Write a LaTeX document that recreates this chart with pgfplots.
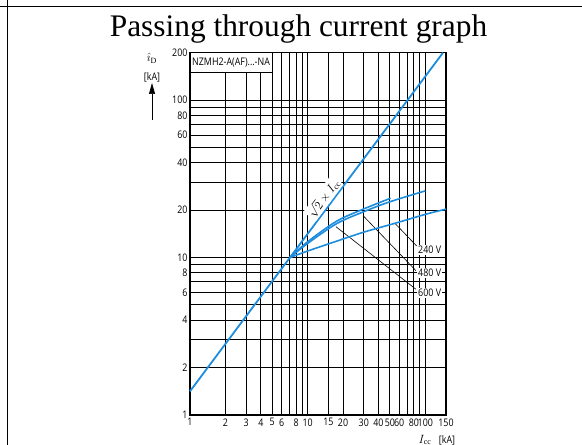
\documentclass[border=0pt]{standalone}
\usepackage{pgfplots}
\pgfplotsset{compat=1.18}
\usetikzlibrary{arrows.meta}
\usepackage{fontspec}
\setmainfont{Liberation Serif}
\newfontfamily\tickfont[FakeStretch=0.85]{Open Sans}
\definecolor{curveblue}{RGB}{28,140,222}
\newcommand{\lblfont}{\tickfont\fontsize{10.5}{12}\selectfont}
\begin{document}
\begin{tikzpicture}[x=1bp,y=1bp]
% page frame lines
\draw[line width=1.6bp] (0,438.5) -- (582,438.5);
\draw[line width=1.6bp] (7.3,0) -- (7.3,445);
\node[font=\fontsize{31.5}{36}\selectfont, anchor=base] at (298.5,408.3) {Passing through current graph};

\begin{axis}[
  at={(190bp,30bp)}, anchor=south west, scale only axis,
  width=256bp, height=362.3bp,
  xmode=log, ymode=log,
  xmin=1, xmax=150, ymin=1, ymax=200,
  xtick={1,2,3,4,5,6,7,8,9,10,15,20,30,40,50,60,70,80,90,100,150},
  xticklabels={1,2,3,4,5,6,,8,,10,15,20,30,40,50,60,,80,,100,150},
  ytick={1,2,3,4,5,6,7,8,9,10,20,30,40,50,60,70,80,90,100,200},
  yticklabels={1,2,,4,,6,,8,,10,20,,40,,60,,80,,100,200},
  grid=major,
  major grid style={black, line width=1bp},
  major tick length=0pt,
  axis line style={line width=1.2bp},
  tick label style={font=\lblfont, text=black},
  yticklabel style={xshift=1bp},
  clip=false,
]
% model label box in the top-left corner
\fill[white] (axis cs:1.02,150) rectangle (axis cs:4.97,198);
\draw[line width=1bp] (axis cs:1,150) -- (axis cs:5,150);
\node[anchor=west, inner sep=2bp, font=\lblfont] at (axis cs:1,172) {NZMH2-A(AF)...-NA};

% leader lines to the voltage labels
\addplot[black, line width=0.6bp] coordinates {(55.2,16.5) (84.3,11.85)};
\addplot[black, line width=0.6bp] coordinates {(29.7,18.4) (83.2,8.26)};
\addplot[black, line width=0.6bp] coordinates {(17.4,15.7) (83.2,6.29)};
\node[anchor=west, fill=white, inner sep=1bp, font=\lblfont] at (axis cs:85,11.2) {240 V};
\node[anchor=west, fill=white, inner sep=1bp, font=\lblfont] at (axis cs:85,7.98) {480 V};
\node[anchor=west, fill=white, inner sep=1bp, font=\lblfont] at (axis cs:85,5.96) {600 V};

% peak current sqrt(2) x Icc
\addplot[curveblue, line width=1.8bp] coordinates {(1,1.4142) (141.42,200)}
  node[pos=0.555, sloped, above, fill=white, text=black, inner sep=1.5bp, font=\fontsize{11.5}{12}\selectfont] {$\sqrt{2}\times I_{\mathrm{cc}}$};

% let-through curves
\addplot[curveblue, line width=1.6bp, smooth] coordinates {
  (7.07,10) (10,12.3) (17.6,16.4) (29.7,19.5) (50,22.6) (100,26.5)};
\addplot[curveblue, line width=1.6bp, smooth] coordinates {
  (7.07,10) (10,12.6) (17.6,17.0) (29.7,20.3) (50.7,23.8)};
\addplot[curveblue, line width=1.6bp, smooth] coordinates {
  (7.07,10) (10,11.0) (17.6,12.7) (30,14.5) (55.2,16.5) (100,18.8) (150,20.3)};
\end{axis}

% axis descriptions
\node[font=\fontsize{11.5}{12}\selectfont] at (152,387) {$\hat{\imath}_{\mathrm{D}}$};
\node[font=\lblfont] at (152,368) {[kA]};
\draw[-{Triangle[length=11bp,width=6bp]}, line width=0.7bp] (152,325) -- (152,362);
\node[font=\fontsize{11.5}{12}\selectfont] at (425,5) {$I_{\mathrm{cc}}$};
\node[font=\lblfont] at (447,5) {[kA]};

\pgfresetboundingbox
\useasboundingbox (0,0) rectangle (582,445);
\end{tikzpicture}
\end{document}
